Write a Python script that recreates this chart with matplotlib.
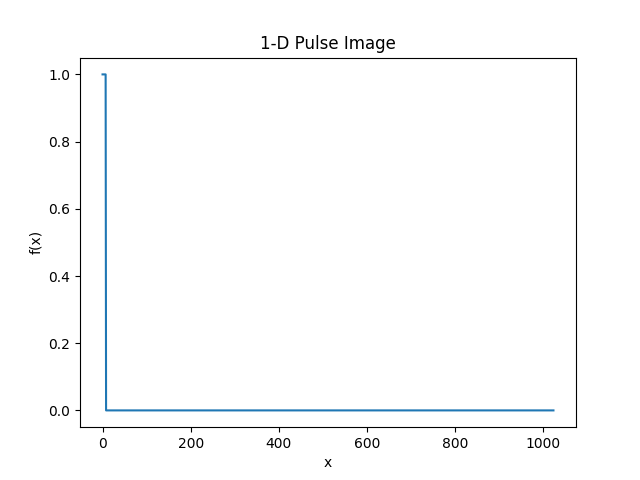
import numpy as np
import matplotlib.pyplot as plt

# pulse signal: 1024 samples, first 8 set to one
n_points = 1024
pulse_width = 8
x = np.arange(n_points)
f = np.zeros(n_points)
f[:pulse_width] = 1.0

fig = plt.figure(figsize=(6.4, 4.8), dpi=100)
plt.plot(x, f)
plt.title("1-D Pulse Image")
plt.xlabel("x")
plt.ylabel("f(x)")
plt.savefig("out.png")
